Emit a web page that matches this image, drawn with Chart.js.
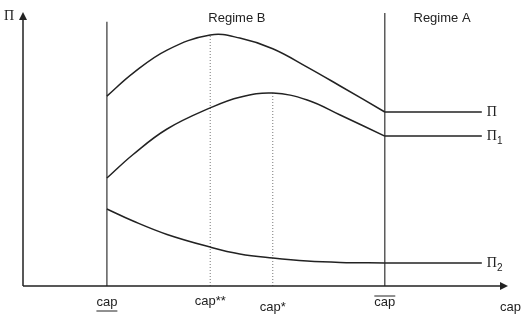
<!DOCTYPE html>
<html>
<head>
<meta charset="utf-8">
<script src="https://cdn.jsdelivr.net/npm/chart.js@4/dist/chart.umd.min.js"></script>
<style>
  html, body { margin: 0; padding: 0; background: #fff; }
  #wrap { width: 525px; height: 318px; }
</style>
</head>
<body>
<div id="wrap"><canvas id="regime"></canvas></div>
<script>
// positions on the cap axis (0-100 units)
var capLow = 17.3;
var capStarStar = 38.6;
var capStar = 51.5;
var capHigh = 74.6;
var capEnd = 94.6;

// sample points of the curves inside regime B
var xs = [17.3, 22.7, 29.7, 38.6, 44.7, 51.5, 58.6, 65.4, 74.6];
var pi = [69.3, 77.7, 86.1, 91.6, 90.5, 86.6, 79.9, 73.0, 63.5];
var pi1 = [39.4, 48.0, 57.3, 65.0, 68.9, 70.4, 67.9, 62.4, 54.7];
var pi2 = [28.1, 23.7, 18.8, 14.2, 11.7, 10.2, 9.1, 8.6, 8.4];

// tick labels under the axis
var tickVals = [capLow, capStarStar, capStar, capHigh];
var tickText = ["cap", "cap**", "cap*", "cap"];

function pts(xv, yv){
  return xv.map(function(x, i){ return {x: x, y: yv[i]}; });
}
function flat(yv){
  var last = yv[yv.length - 1];
  return [{x: capHigh, y: last}, {x: capEnd, y: last}];
}

var ink = "#222";
var curve = function(data){
  return { data: data, borderColor: ink, borderWidth: 1.5, pointRadius: 0, fill: false, tension: 0.4 };
};
var straight = function(data, color, width, dash){
  return { data: data, borderColor: color, borderWidth: width, borderDash: dash || [], pointRadius: 0, fill: false, tension: 0 };
};

var datasets = [
  curve(pts(xs, pi)),
  curve(pts(xs, pi1)),
  curve(pts(xs, pi2)),
  straight(flat(pi), ink, 1.5),
  straight(flat(pi1), ink, 1.5),
  straight(flat(pi2), ink, 1.5),
  straight([{x: capLow, y: 0}, {x: capLow, y: 96.4}], "#333", 1.2),
  straight([{x: capHigh, y: 0}, {x: capHigh, y: 99.6}], "#333", 1.2),
  straight([{x: capStarStar, y: 0}, {x: capStarStar, y: pi[3]}], "#777", 1, [1, 2]),
  straight([{x: capStar, y: 0}, {x: capStar, y: pi1[5]}], "#777", 1, [1, 2])
];

// axes with arrows and all the text
var decor = {
  id: "decor",
  afterDatasetsDraw: function(chart){
    var c = chart.ctx, a = chart.chartArea;
    var sx = chart.scales.x, sy = chart.scales.y;
    c.save();
    c.strokeStyle = "#222"; c.fillStyle = "#222"; c.lineWidth = 1.5;
    c.beginPath();
    c.moveTo(a.left, a.bottom); c.lineTo(a.left, a.top + 6);
    c.moveTo(a.left, a.bottom); c.lineTo(a.right - 6, a.bottom);
    c.stroke();
    c.beginPath();
    c.moveTo(a.left, a.top); c.lineTo(a.left - 4, a.top + 8); c.lineTo(a.left + 4, a.top + 8); c.closePath();
    c.moveTo(a.right, a.bottom); c.lineTo(a.right - 8, a.bottom - 4); c.lineTo(a.right - 8, a.bottom + 4); c.closePath();
    c.fill();

    c.font = "13px 'Liberation Sans', Arial, sans-serif";
    c.textAlign = "center"; c.textBaseline = "alphabetic";
    var dy = [20, 19, 25, 20];
    tickVals.forEach(function(v, i){
      var px = sx.getPixelForValue(v);
      var py = a.bottom + dy[i];
      c.fillText(tickText[i], px, py);
      var w = c.measureText(tickText[i]).width;
      c.lineWidth = 1;
      c.beginPath();
      if(i == 0){ c.moveTo(px - w/2, py + 5); c.lineTo(px + w/2, py + 5); }
      if(i == 3){ c.moveTo(px - w/2, py - 10); c.lineTo(px + w/2, py - 10); }
      c.stroke();
    });
    c.textAlign = "left";
    c.fillText("cap", a.right - 8, a.bottom + 25);

    c.textAlign = "center";
    c.fillText("Regime B", sx.getPixelForValue(44.1), sy.getPixelForValue(96.4));
    c.fillText("Regime A", sx.getPixelForValue(86.4), sy.getPixelForValue(96.4));

    // Π labels
    c.font = "14px 'Liberation Serif', 'DejaVu Serif', serif";
    c.textAlign = "left"; c.textBaseline = "middle";
    var lx = sx.getPixelForValue(capEnd) + 5;
    c.fillText("Π", 4, a.top + 4);
    c.fillText("Π", lx, sy.getPixelForValue(pi[pi.length - 1]));
    var subs = [["1", pi1], ["2", pi2]];
    subs.forEach(function(s){
      var py = sy.getPixelForValue(s[1][s[1].length - 1]);
      c.font = "14px 'Liberation Serif', 'DejaVu Serif', serif";
      c.fillText("Π", lx, py);
      var w = c.measureText("Π").width;
      c.font = "10px 'Liberation Sans', Arial, sans-serif";
      c.fillText(s[0], lx + w, py + 5);
    });
    c.restore();
  }
};

var regimeChart = new Chart(document.getElementById("regime"), {
  type: "line",
  data: { datasets: datasets },
  options: {
    responsive: true,
    maintainAspectRatio: false,
    animation: false,
    layout: { padding: { left: 23, right: 17, top: 12, bottom: 32 } },
    plugins: { legend: { display: false }, tooltip: { enabled: false } },
    scales: {
      x: { type: "linear", min: 0, max: 100, display: false },
      y: { type: "linear", min: 0, max: 100, display: false }
    }
  },
  plugins: [decor]
});
</script>
</body>
</html>
